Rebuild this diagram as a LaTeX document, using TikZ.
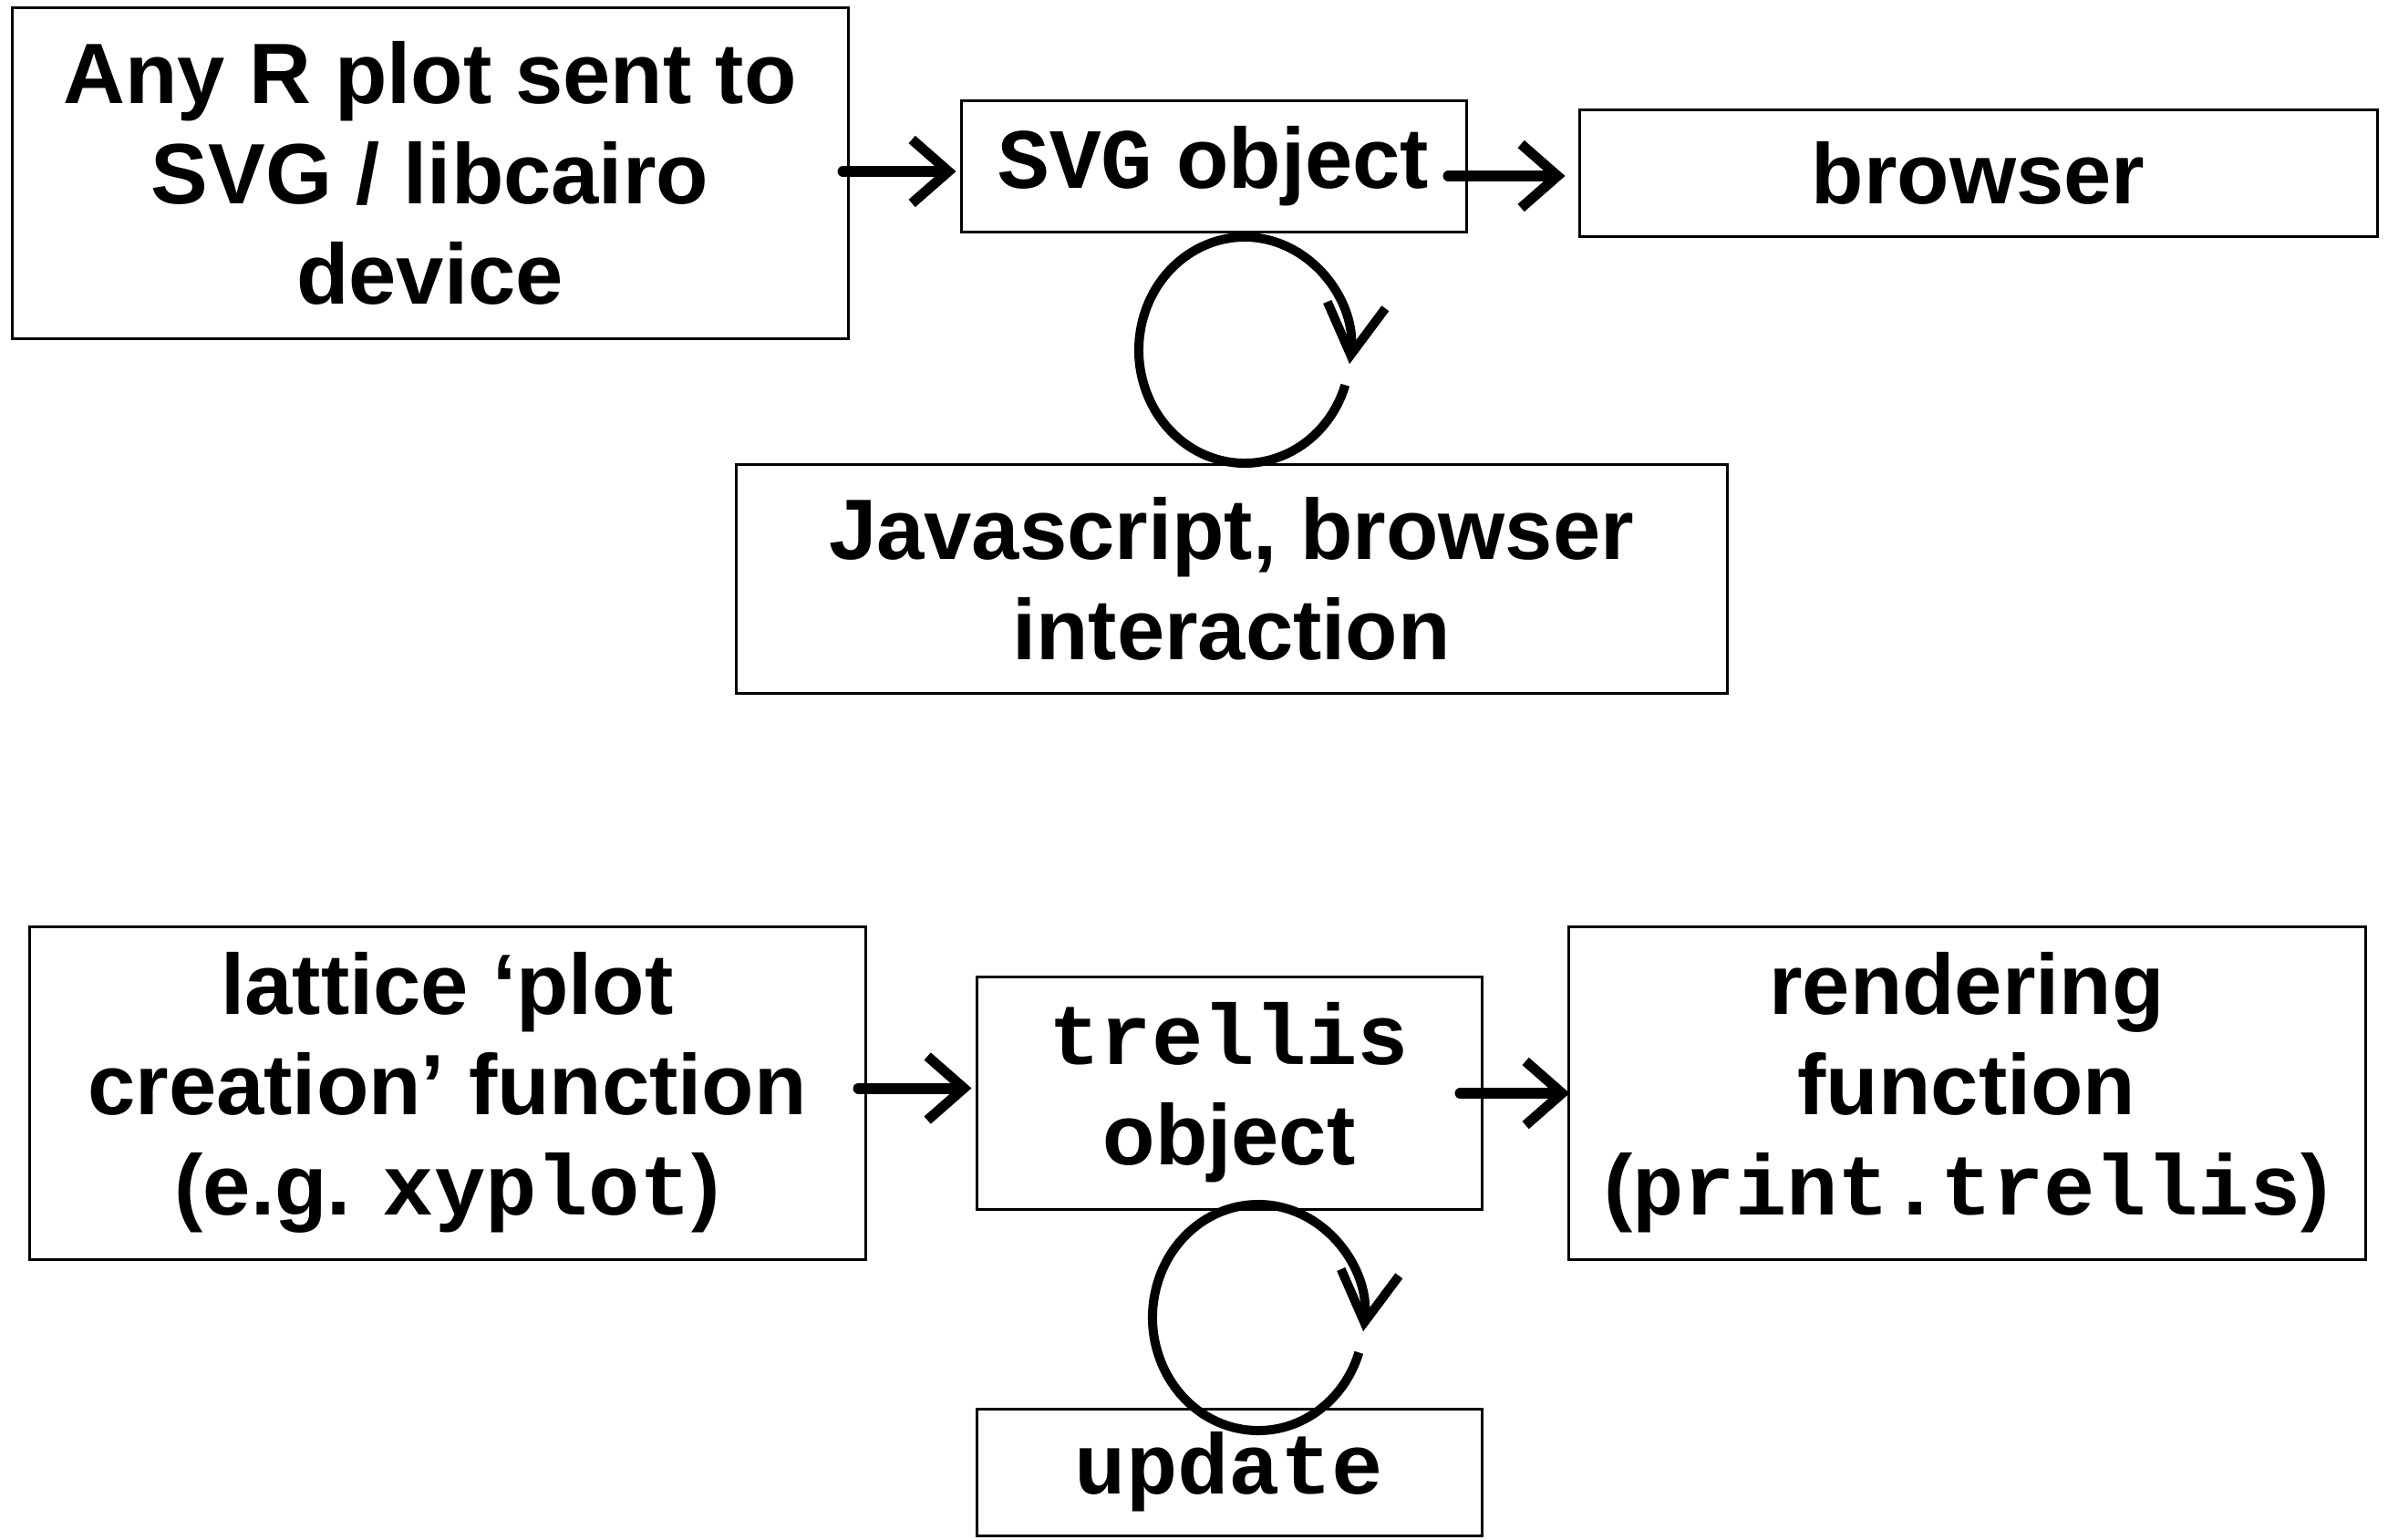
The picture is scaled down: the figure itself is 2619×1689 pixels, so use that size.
\documentclass[tikz,border=0pt]{standalone}
\usepackage{fontspec}
\setmainfont{Liberation Sans}
\setmonofont{Liberation Mono}
\usetikzlibrary{arrows.meta,calc}
\begin{document}
\begin{tikzpicture}[x=1pt,y=-1pt,
  box/.style={draw, line width=3pt, align=center, inner sep=0pt,
    font=\bfseries\fontsize{94}{110}\selectfont},
  arr/.style={line width=12pt, line cap=round, -{Straight Barb[length=40pt,width=70pt,line width=11pt]}},
  cyc/.style={line width=10pt, -{Straight Barb[length=55pt,width=64pt,line width=10pt]}}]
\useasboundingbox[fill=white] (0,0) rectangle (2619,1689);
% top row
\node[box, minimum width=917pt, minimum height=363pt] (plot) at (471.5,189.5)
  {Any R plot sent to\\SVG / libcairo\\device};
\node[box, minimum width=554pt, minimum height=144pt] (svg) at (1331,182)
  {\texttt{SVG} object};
\node[box, minimum width=875pt, minimum height=139pt] (browser) at (2169.5,189.5)
  {browser};
\node[box, minimum width=1087pt, minimum height=251pt] (js) at (1350.5,634.5)
  {Javascript, browser\\interaction};
% bottom row
\node[box, minimum width=917pt, minimum height=365pt] (lattice) at (490.5,1198.5)
  {lattice ‘plot\\creation’ function\\(e.g. \texttt{xyplot})};
\node[box, minimum width=554pt, minimum height=255pt] (trellis) at (1348,1198.5)
  {\texttt{trellis}\\object};
\node[box, minimum width=874pt, minimum height=365pt] (rendering) at (2157,1198.5)
  {rendering\\function\\(\texttt{print.trellis})};
\node[box, minimum width=554pt, minimum height=139pt] (update) at (1348,1614.5)
  {\texttt{update}};
% connectors
\draw[arr] ($(plot.east)+(-7,-1.5)$) -- ($(svg.west)+(-4,6)$);
\draw[arr] ($(svg.east)+(-21,11)$) -- ($(browser.west)+(-14,3.5)$);
\draw[arr] ($(lattice.east)+(-9,-5)$) -- ($(trellis.west)+(-4,-5)$);
\draw[arr] ($(trellis.east)+(-25,0.5)$) -- ($(rendering.west)+(3,0.5)$);
% loops
\coordinate (c1) at ($(svg.center)+(34,202)$);
\coordinate (c2) at ($(trellis.center)+(32,246.5)$);
\draw[cyc] ($(c1)+(18:116 and 124)$) arc[start angle=18, end angle=367, x radius=116, y radius=124];
\draw[cyc] ($(c2)+(18:116 and 124)$) arc[start angle=18, end angle=367, x radius=116, y radius=124];
\end{tikzpicture}
\end{document}
